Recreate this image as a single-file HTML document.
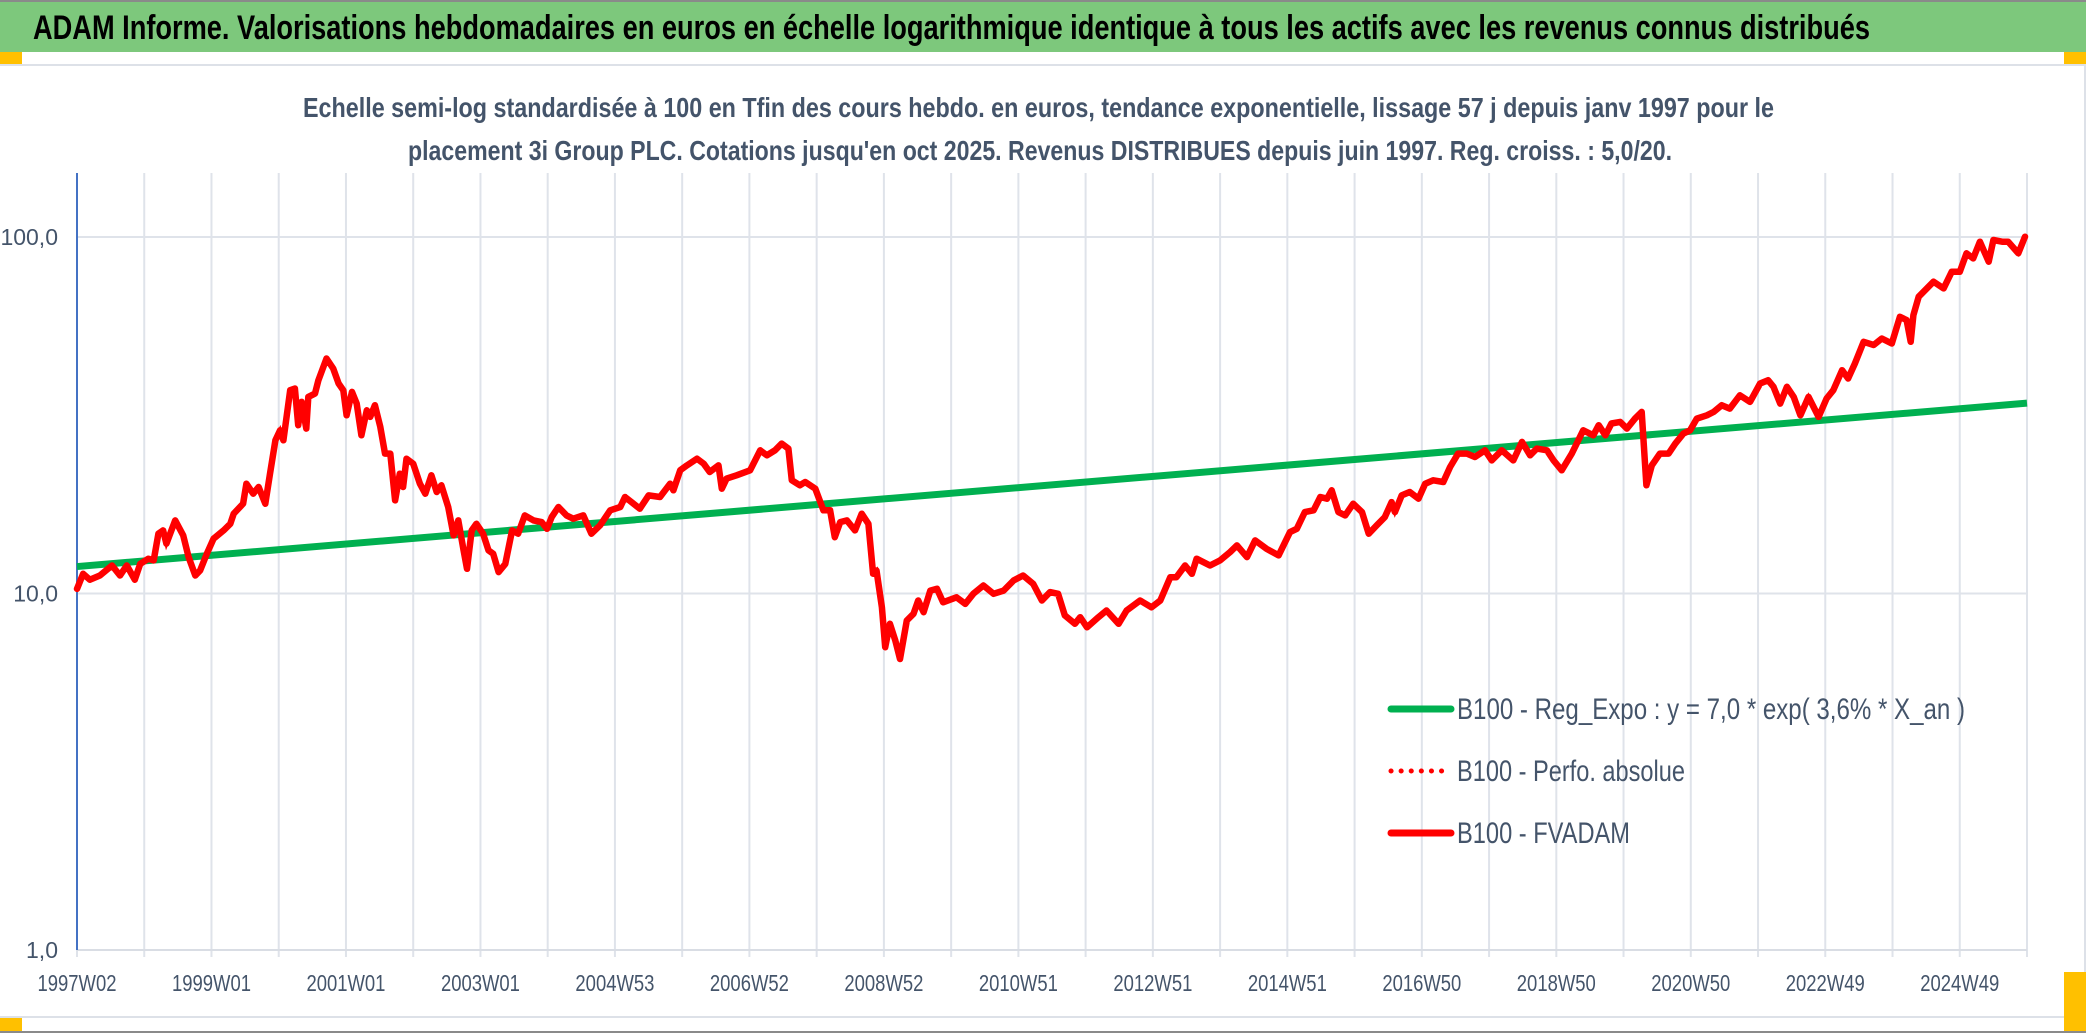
<!DOCTYPE html>
<html><head><meta charset="utf-8">
<style>
html,body{margin:0;padding:0;background:#fff;}
svg{display:block;}
text{font-family:"Liberation Sans Narrow","Liberation Sans",sans-serif;}
</style></head>
<body>
<svg id="chart" width="2086" height="1033" viewBox="0 0 2086 1033" xmlns="http://www.w3.org/2000/svg">
  <rect x="0" y="0" width="2086" height="1033" fill="#ffffff"/>
  <rect x="0" y="0" width="2086" height="52" fill="#7dc87c"/>
  <line x1="0" y1="1" x2="2086" y2="1" stroke="#8a8a8a" stroke-width="2"/>
  <text x="33" y="39" font-size="34" font-weight="bold" fill="#000" textLength="1837" lengthAdjust="spacingAndGlyphs">ADAM Informe. Valorisations hebdomadaires en euros en échelle logarithmique identique à tous les actifs avec les revenus connus distribués</text>
  <rect x="0" y="52" width="22" height="12" fill="#ffc000"/>
  <rect x="2064" y="52" width="22" height="12" fill="#ffc000"/>
  <line x1="0" y1="65" x2="2086" y2="65" stroke="#dde1e8" stroke-width="2"/>
  <line x1="0" y1="1017" x2="2086" y2="1017" stroke="#dde1e8" stroke-width="2"/>
  <line x1="2085" y1="65" x2="2085" y2="1017" stroke="#dde1e8" stroke-width="2"/>
  <rect x="0" y="1018" width="22" height="13" fill="#ffc000"/>
  <rect x="2064" y="972" width="22" height="61" fill="#ffc000"/>
  <line x1="0" y1="1032" x2="2086" y2="1032" stroke="#8a8a8a" stroke-width="2"/>
  <text x="303" y="117" font-size="28" font-weight="bold" fill="#44546a" textLength="1471" lengthAdjust="spacingAndGlyphs">Echelle semi-log standardisée à 100 en Tfin des cours hebdo. en euros, tendance exponentielle, lissage 57 j depuis janv 1997 pour le</text>
  <text x="408" y="160" font-size="28" font-weight="bold" fill="#44546a" textLength="1264" lengthAdjust="spacingAndGlyphs">placement 3i Group PLC. Cotations jusqu'en oct 2025. Revenus DISTRIBUES depuis juin 1997. Reg. croiss. : 5,0/20.</text>
  <g id="grid"></g>
  <g id="axes"></g>
  <g id="series"></g>
  <g id="legend">
    <line x1="1391" y1="709" x2="1451" y2="709" stroke="#00b050" stroke-width="7" stroke-linecap="round"/>
    <text x="1457" y="719" font-size="30" fill="#44546a" textLength="508" lengthAdjust="spacingAndGlyphs">B100 - Reg_Expo : y = 7,0 * exp( 3,6% *  X_an )</text>
    <line x1="1391" y1="771" x2="1451" y2="771" stroke="#ff0000" stroke-width="5" stroke-dasharray="0.1 10" stroke-linecap="round"/>
    <text x="1457" y="781" font-size="30" fill="#44546a" textLength="228" lengthAdjust="spacingAndGlyphs">B100 - Perfo. absolue</text>
    <line x1="1391" y1="833" x2="1451" y2="833" stroke="#ff0000" stroke-width="7" stroke-linecap="round"/>
    <text x="1457" y="843" font-size="30" fill="#44546a" textLength="173" lengthAdjust="spacingAndGlyphs">B100 - FVADAM</text>
  </g>
</svg>
<script>
// ---- data ----
const xTickLabels = ["1997W02","1999W01","2001W01","2003W01","2004W53","2006W52","2008W52","2010W51","2012W51","2014W51","2016W50","2018W50","2020W50","2022W49","2024W49"];
const yTickValues = [1, 10, 100];
const yTickLabels = ["1,0","10,0","100,0"];
const regYears = [1997.0, 2026.0];
const regValues = [11.9, 34.2];
const fvYears = [1997.0,1997.09,1997.19,1997.34,1997.52,1997.64,1997.74,1997.86,1997.94,1998.06,1998.14,1998.21,1998.28,1998.33,1998.46,1998.58,1998.66,1998.76,1998.83,1998.93,1999.03,1999.18,1999.28,1999.33,1999.47,1999.52,1999.62,1999.7,1999.8,1999.87,1999.95,2000.02,2000.07,2000.17,2000.24,2000.29,2000.34,2000.41,2000.44,2000.54,2000.59,2000.71,2000.81,2000.89,2000.96,2001.01,2001.09,2001.16,2001.23,2001.31,2001.36,2001.43,2001.51,2001.58,2001.66,2001.73,2001.8,2001.85,2001.9,2002.0,2002.1,2002.18,2002.27,2002.35,2002.42,2002.52,2002.6,2002.67,2002.75,2002.8,2002.87,2002.94,2003.04,2003.12,2003.19,2003.27,2003.37,2003.47,2003.56,2003.66,2003.79,2003.91,2003.99,2004.06,2004.16,2004.28,2004.38,2004.53,2004.65,2004.78,2004.93,2005.08,2005.15,2005.37,2005.5,2005.67,2005.82,2005.87,2005.97,2006.07,2006.22,2006.32,2006.41,2006.54,2006.59,2006.66,2006.81,2007.01,2007.16,2007.26,2007.38,2007.48,2007.58,2007.63,2007.75,2007.83,2007.98,2008.1,2008.2,2008.27,2008.35,2008.45,2008.57,2008.67,2008.77,2008.84,2008.89,2008.97,2009.02,2009.09,2009.17,2009.24,2009.34,2009.44,2009.51,2009.59,2009.69,2009.79,2009.88,2010.08,2010.21,2010.33,2010.48,2010.63,2010.78,2010.93,2011.07,2011.22,2011.35,2011.47,2011.59,2011.69,2011.84,2011.92,2012.02,2012.19,2012.31,2012.49,2012.61,2012.81,2012.98,2013.11,2013.26,2013.35,2013.48,2013.58,2013.65,2013.85,2014.0,2014.15,2014.25,2014.4,2014.52,2014.69,2014.87,2015.04,2015.14,2015.26,2015.39,2015.49,2015.59,2015.66,2015.76,2015.86,2015.98,2016.11,2016.21,2016.33,2016.45,2016.55,2016.6,2016.7,2016.82,2016.95,2017.05,2017.17,2017.32,2017.42,2017.54,2017.67,2017.79,2017.94,2018.04,2018.19,2018.36,2018.49,2018.61,2018.71,2018.86,2018.96,2019.08,2019.23,2019.4,2019.55,2019.63,2019.73,2019.82,2019.95,2020.05,2020.17,2020.27,2020.34,2020.42,2020.54,2020.67,2020.77,2020.89,2020.99,2021.09,2021.24,2021.34,2021.46,2021.58,2021.73,2021.88,2022.03,2022.15,2022.23,2022.33,2022.43,2022.53,2022.63,2022.75,2022.9,2023.02,2023.12,2023.25,2023.34,2023.44,2023.57,2023.72,2023.84,2023.99,2024.11,2024.21,2024.27,2024.31,2024.39,2024.61,2024.76,2024.88,2025.0,2025.1,2025.2,2025.3,2025.43,2025.5,2025.63,2025.72,2025.87,2025.97];
const fvValues = [10.3,11.36,10.93,11.23,11.98,11.23,11.98,10.93,12.11,12.51,12.38,14.71,15.03,13.79,16.03,14.55,12.65,11.23,11.6,12.92,14.24,15.03,15.69,16.74,17.86,20.32,19.05,19.89,17.86,21.68,26.9,28.7,26.9,37.17,37.58,29.65,34.47,29.01,35.61,36.38,39.66,45.61,42.76,38.81,37.17,31.62,36.78,34.1,27.79,32.66,31.28,33.74,29.33,24.68,24.68,18.25,21.68,19.89,23.89,23.13,20.32,19.05,21.45,19.26,20.11,17.48,14.55,16.03,13.21,11.73,15.03,15.69,14.71,13.21,12.92,11.48,12.11,15.03,14.71,16.56,16.03,15.86,15.19,16.38,17.48,16.56,16.21,16.56,14.71,15.53,17.11,17.48,18.65,17.29,18.85,18.65,20.32,19.47,22.16,22.88,23.89,23.13,21.92,22.88,19.68,21.0,21.45,22.16,25.22,24.42,25.22,26.33,25.49,20.77,20.11,20.55,19.68,17.11,17.11,14.39,15.86,16.03,15.03,16.74,15.69,11.36,11.6,9.15,7.07,8.22,7.38,6.55,8.4,8.77,9.56,8.86,10.19,10.31,9.45,9.76,9.35,9.98,10.53,9.98,10.19,10.88,11.23,10.64,9.56,10.09,9.98,8.68,8.22,8.58,8.04,8.58,8.96,8.22,8.96,9.56,9.15,9.56,11.11,11.11,11.98,11.36,12.52,11.98,12.38,13.07,13.64,12.65,14.09,13.35,12.79,14.87,15.19,16.92,17.11,18.65,18.45,19.47,16.92,16.56,17.86,16.92,14.71,15.53,16.38,18.05,16.92,18.85,19.26,18.45,20.32,20.77,20.55,22.64,24.68,24.68,24.15,25.22,23.63,25.22,23.63,26.62,24.42,25.49,25.22,23.63,22.16,24.68,28.7,27.79,29.65,27.79,29.98,30.29,29.01,30.95,32.31,20.11,22.88,24.68,24.68,26.33,28.09,28.7,30.95,31.62,32.31,33.74,33.02,35.98,34.47,38.81,39.66,37.99,34.1,37.99,35.61,31.62,35.61,31.28,35.23,37.17,42.3,40.09,44.16,50.82,49.77,51.92,50.25,59.73,58.45,50.82,60.38,68.01,74.91,71.74,79.89,79.89,89.98,87.1,97.03,85.25,98.06,97.03,97.03,89.98,100.2];

// ---- axes ----
const X0 = 77, X1 = 2027, T0 = 1997.0, T1 = 2026.0;
const YTOP = 173, YBOT = 950, Y100 = 237, DEC = 356.5;
function xOf(t){ return X0 + (t - T0) / (T1 - T0) * (X1 - X0); }
function yOf(v){ return Y100 + (2 - Math.log10(v)) * DEC; }
const NS = "http://www.w3.org/2000/svg";
function mk(tag, attrs){ const e = document.createElementNS(NS, tag); for (const k in attrs) e.setAttribute(k, attrs[k]); return e; }
const grid = document.getElementById('grid'), axes = document.getElementById('axes'), series = document.getElementById('series');
const nGrid = 29;
for (let k = 0; k <= nGrid; k++) {
  const x = X0 + k * (X1 - X0) / nGrid;
  const g = mk('line', {x1:x, y1:YTOP, x2:x, y2:YBOT + 7, stroke:'#dfe3ea', 'stroke-width':2});
  
  
  grid.appendChild(g);
}
yTickValues.forEach((v, i) => {
  const y = yOf(v);
  if (v > 1) {
    const g = mk('line', {x1:X0, y1:y, x2:X1, y2:y, stroke:'#dfe3ea', 'stroke-width':2});
    
    
    grid.appendChild(g);
  }
  const t = mk('text', {x:58, y:y + 8, 'font-size':23, fill:'#44546a', 'text-anchor':'end'});
  t.textContent = yTickLabels[i];
  
  
  axes.appendChild(t);
});
const xAxis = mk('line', {x1:X0, y1:YBOT, x2:X1, y2:YBOT, stroke:'#d9dde4', 'stroke-width':2});


axes.appendChild(xAxis);
const yAxis = mk('line', {x1:X0, y1:YTOP, x2:X0, y2:YBOT, stroke:'#4472c4', 'stroke-width':2});


axes.appendChild(yAxis);
xTickLabels.forEach((lab, i) => {
  const x = X0 + 2 * i * (X1 - X0) / nGrid;
  const t = mk('text', {x:x, y:991, 'font-size':23, fill:'#44546a', 'text-anchor':'middle', textLength:79, lengthAdjust:'spacingAndGlyphs'});
  t.textContent = lab;
  
  
  axes.appendChild(t);
});
// ---- series ----
const reg = mk('line', {x1:xOf(regYears[0]), y1:yOf(regValues[0]), x2:xOf(regYears[1]), y2:yOf(regValues[1]), stroke:'#00b050', 'stroke-width':7});


series.appendChild(reg);
const pts = fvYears.map((t, i) => xOf(t).toFixed(1) + ',' + yOf(fvValues[i]).toFixed(1)).join(' ');
const perfo = mk('polyline', {points:pts, fill:'none', stroke:'#ff0000', 'stroke-width':4, 'stroke-dasharray':'1 8'});


series.appendChild(perfo);
const fv = mk('polyline', {points:pts, fill:'none', stroke:'#ff0000', 'stroke-width':6.5, 'stroke-linejoin':'round', 'stroke-linecap':'round'});


series.appendChild(fv);
</script>
</body></html>
